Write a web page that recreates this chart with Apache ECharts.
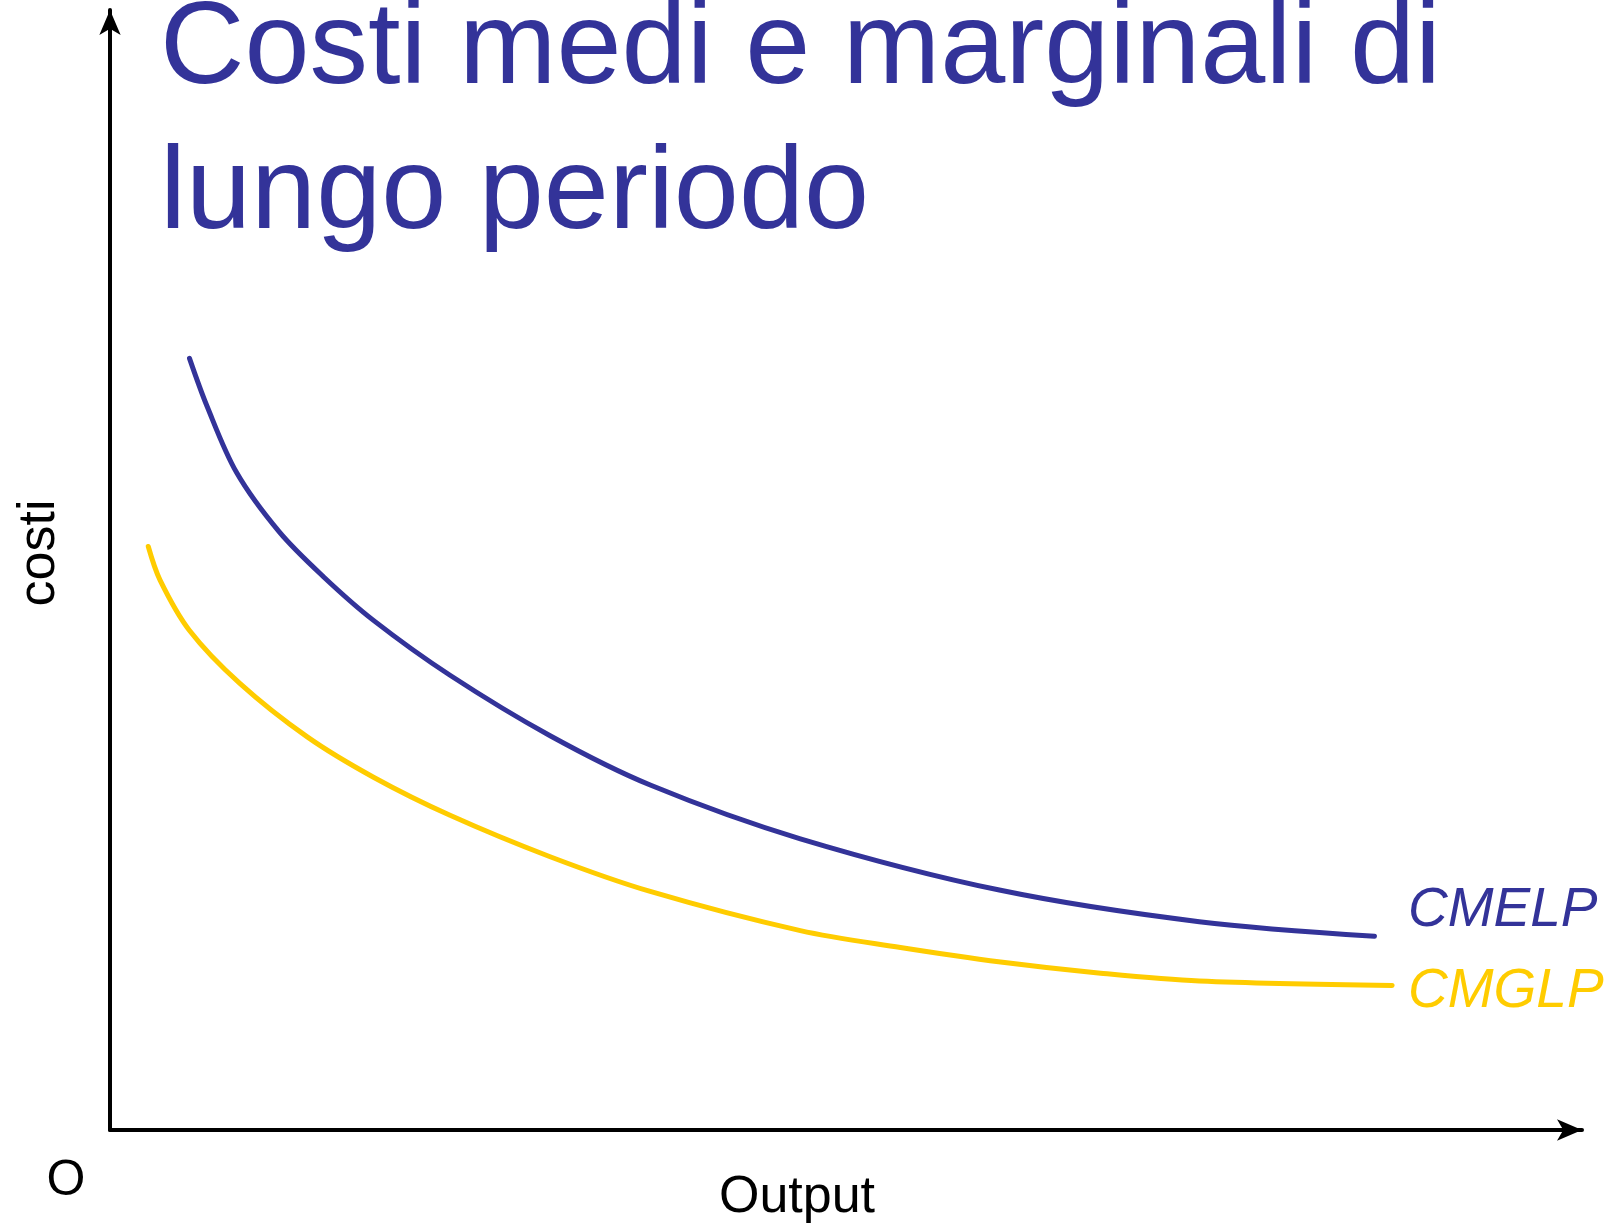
<!DOCTYPE html>
<html>
<head>
<meta charset="utf-8">
<title>Costi medi e marginali di lungo periodo</title>
<script src="https://cdn.jsdelivr.net/npm/echarts@6/dist/echarts.min.js"></script>
<style>
  html, body { margin: 0; padding: 0; background: #fff; }
  #chart { width: 1608px; height: 1224px; }
</style>
</head>
<body>
<div id="chart"></div>
<script>
// costi medi di lungo periodo (CMELP)
var cmelpOutput = [5.4, 6.6, 8.6, 11.5, 14.5, 17.9, 23.1, 29.9, 36.7, 46.9, 60.5, 74.0, 85.9];
var cmelpCost   = [68.9, 64.6, 58.7, 53.4, 49.4, 45.5, 40.6, 35.2, 30.8, 26.0, 21.4, 18.6, 17.3];

// costi marginali di lungo periodo (CMGLP)
var cmglpOutput = [2.6, 3.4, 5.4, 8.8, 13.4, 17.9, 23.1, 29.9, 36.7, 46.9, 53.7, 60.5, 67.3, 74.0, 87.1];
var cmglpCost   = [52.1, 49.1, 44.6, 39.9, 35.1, 31.5, 28.1, 24.4, 21.3, 17.8, 16.3, 15.0, 14.0, 13.3, 12.9];

var seriesNames = ['CMELP', 'CMGLP'];

var blu = '#333399';
var giallo = '#FFCC00';

function pairs(xs, ys) {
    return xs.map(function (x, i) { return [x, ys[i]]; });
}

var myChart = echarts.init(document.getElementById('chart'));

var assi = {
    type: 'value',
    min: 0,
    max: 100,
    splitLine: { show: false },
    axisTick: { show: false },
    axisLabel: { show: false },
    axisLine: {
        show: true,
        symbol: ['none', 'arrow'],
        symbolSize: [16, 25],
        lineStyle: { color: '#000', width: 4 }
    }
};

var font = '"Liberation Sans", Arial, sans-serif';

var option = {
    animation: false,
    backgroundColor: '#fff',
    grid: { left: 110, right: 26, top: 10, bottom: 94 },
    xAxis: assi,
    yAxis: assi,
    graphic: [
        {
            type: 'text', left: 160, top: -8,
            style: { text: 'Costi medi e marginali di', font: '117px ' + font, fill: blu }
        },
        {
            type: 'text', left: 160, top: 137,
            style: { text: 'lungo periodo', font: '117px ' + font, fill: blu }
        },
        {
            type: 'text', x: 40, y: 553, rotation: Math.PI / 2,
            style: { text: 'costi', font: '52px ' + font, fill: '#000', align: 'center', verticalAlign: 'middle' }
        },
        {
            type: 'text', x: 66, y: 1181,
            style: { text: 'O', font: '50px ' + font, fill: '#000', align: 'center', verticalAlign: 'middle' }
        },
        {
            type: 'text', x: 797, y: 1198,
            style: { text: 'Output', font: '52px ' + font, fill: '#000', align: 'center', verticalAlign: 'middle' }
        },
        {
            type: 'text', x: 1408, y: 911,
            style: { text: seriesNames[0], font: 'italic 55px ' + font, fill: blu, align: 'left', verticalAlign: 'middle' }
        },
        {
            type: 'text', x: 1408, y: 992,
            style: { text: seriesNames[1], font: 'italic 55px ' + font, fill: giallo, align: 'left', verticalAlign: 'middle' }
        }
    ],
    series: [
        {
            name: seriesNames[0],
            type: 'line',
            smooth: 0.33,
            showSymbol: false,
            lineStyle: { color: blu, width: 5, cap: 'round' },
            data: pairs(cmelpOutput, cmelpCost)
        },
        {
            name: seriesNames[1],
            type: 'line',
            smooth: 0.33,
            showSymbol: false,
            lineStyle: { color: giallo, width: 5, cap: 'round' },
            data: pairs(cmglpOutput, cmglpCost)
        }
    ]
};

option && myChart.setOption(option);
</script>
</body>
</html>
